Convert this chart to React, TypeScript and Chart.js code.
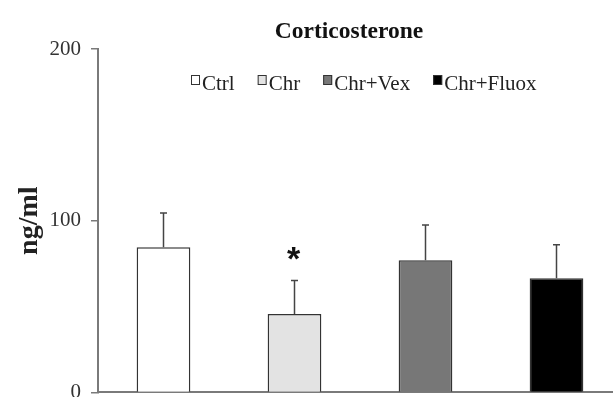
import React, { useEffect, useRef } from "react";
import { Chart, registerables } from "chart.js";

Chart.register(...registerables);

const categories = ["Ctrl", "Chr", "Chr+Vex", "Chr+Fluox"];
const means = [84.5, 45.6, 77, 66.5];
const sems = [20, 19.5, 20.5, 19.5];
const significance = ["", "*", "", ""];
const yTickValues = [0, 100, 200];
const fillColors = ["#ffffff", "#e3e3e3", "#777777", "#000000"];
const chartTitle = "Corticosterone";
const yAxisTitle = "ng/ml";

const SERIF = "'Liberation Serif', 'Times New Roman', serif";

const errorBarPlugin = {
  id: "errorBars",
  afterDatasetsDraw(chart: any) {
    const { ctx } = chart;
    const yScale = chart.scales.y;
    ctx.save();
    chart.data.datasets.forEach((ds: any, di: number) => {
      const meta = chart.getDatasetMeta(di);
      meta.data.forEach((bar: any, i: number) => {
        const v = ds.data[i];
        if (v == null) return;
        const x = bar.x;
        const yTop = yScale.getPixelForValue(v);
        const yErr = yScale.getPixelForValue(v + sems[i]);
        ctx.strokeStyle = "#444";
        ctx.lineWidth = 1.5;
        ctx.beginPath();
        ctx.moveTo(x, yTop);
        ctx.lineTo(x, yErr);
        ctx.moveTo(x - 3.5, yErr);
        ctx.lineTo(x + 3.5, yErr);
        ctx.stroke();
        if (significance[i]) {
          ctx.fillStyle = "#111";
          ctx.font = "bold 34px 'Liberation Sans', Arial, sans-serif";
          ctx.textAlign = "center";
          ctx.textBaseline = "alphabetic";
          ctx.fillText(significance[i], x - 1, yErr - 11);
        }
      });
    });
    ctx.restore();
  },
};

const titleAndLegendPlugin = {
  id: "titleAndLegend",
  afterDraw(chart: any) {
    const { ctx, chartArea } = chart;
    ctx.save();
    // chart title
    ctx.fillStyle = "#111";
    ctx.font = `bold 23.5px ${SERIF}`;
    ctx.textAlign = "center";
    ctx.textBaseline = "alphabetic";
    ctx.fillText(chartTitle, chartArea.left + 251, chartArea.top - 11);

    // y axis title
    ctx.save();
    ctx.translate(chartArea.left - 68, (chartArea.top + chartArea.bottom) / 2);
    ctx.rotate(-Math.PI / 2);
    ctx.fillStyle = "#222";
    ctx.font = `bold 28px ${SERIF}`;
    ctx.textAlign = "center";
    ctx.textBaseline = "middle";
    ctx.fillText(yAxisTitle, 0, 0);
    ctx.restore();

    // legend inside plot area
    ctx.font = `21px ${SERIF}`;
    const boxW = 9;
    const boxH = 10;
    const gapBoxText = 2;
    const gapItems = 23;
    const items = chart.data.datasets.map((ds: any) => ({
      label: ds.label,
      color: ds.backgroundColor,
      w: boxW + gapBoxText + ctx.measureText(ds.label).width,
    }));
    let x = chartArea.left + 93;
    const yc = chartArea.top + 31;
    items.forEach((it: any) => {
      ctx.fillStyle = it.color;
      ctx.fillRect(x, yc - boxH / 2, boxW, boxH);
      ctx.strokeStyle = "#333";
      ctx.lineWidth = 1;
      ctx.strokeRect(x + 0.5, yc - boxH / 2 + 0.5, boxW - 1, boxH - 1);
      ctx.fillStyle = "#222";
      ctx.textAlign = "left";
      ctx.textBaseline = "alphabetic";
      ctx.fillText(it.label, x + boxW + gapBoxText, yc + 10);
      x += it.w + gapItems;
    });
    ctx.restore();
  },
};

export default function App() {
  const ref = useRef<HTMLCanvasElement | null>(null);

  useEffect(() => {
    document.body.style.overflow = "hidden";
    const canvas = ref.current!;
    const datasets = categories.map((c, i) => ({
      label: c,
      data: categories.map((_, j) => (j === i ? means[i] : null)),
      backgroundColor: fillColors[i],
      borderColor: "#333",
      borderWidth: 1.5,
      barPercentage: 0.41,
      categoryPercentage: 1,
      grouped: false,
    }));
    const chart = new Chart(canvas, {
      type: "bar",
      data: { labels: categories, datasets },
      options: {
        responsive: false,
        animation: false,
        layout: { padding: { top: 49, right: 2, bottom: 0, left: 39.5 } },
        plugins: {
          legend: { display: false },
          tooltip: { enabled: false },
          title: { display: false },
        },
        scales: {
          x: {
            ticks: { display: false },
            grid: { display: false },
            border: { display: true, color: "#7a7a7a", width: 2 },
          },
          y: {
            min: 0,
            max: 200,
            afterBuildTicks: (scale: any) => {
              scale.ticks = yTickValues.map((v) => ({ value: v }));
            },
            ticks: {
              color: "#333",
              font: { family: SERIF, size: 21 },
              padding: 10,
            },
            grid: {
              drawOnChartArea: false,
              drawTicks: true,
              tickLength: 7,
              color: "#7a7a7a",
              lineWidth: 1.5,
            },
            border: { display: true, color: "#7a7a7a", width: 2 },
          },
        },
      },
      plugins: [errorBarPlugin, titleAndLegendPlugin],
    });
    return () => chart.destroy();
  }, []);

  return (
    <div
      style={{
        position: "fixed",
        left: 0,
        top: 0,
        width: 613,
        height: 397,
        overflow: "hidden",
        background: "#fff",
      }}
    >
      <canvas ref={ref} width={624} height={415} style={{ width: 624, height: 415 }} />
    </div>
  );
}
